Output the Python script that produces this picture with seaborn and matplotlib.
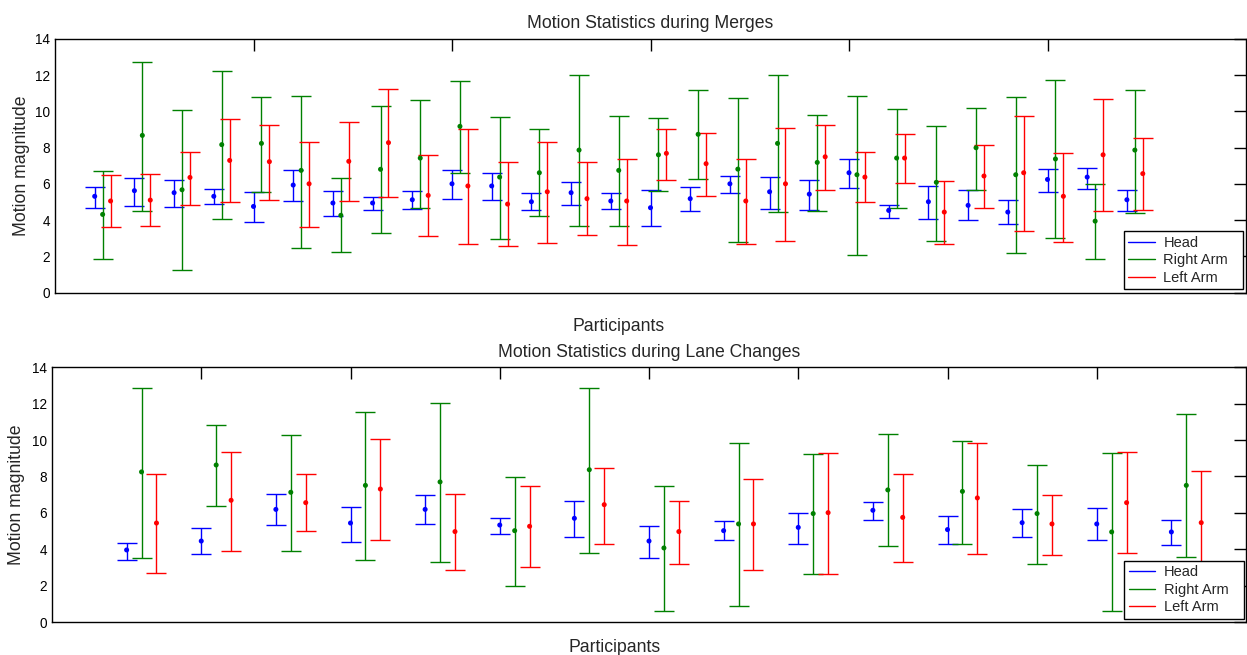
import numpy as np
import pandas as pd
import matplotlib
matplotlib.use('Agg')
import matplotlib.pyplot as plt
from matplotlib.lines import Line2D
import seaborn as sns

series_names = ['Head', 'Right Arm', 'Left Arm']
series_colors = ['#0000FF', '#008000', '#FF0000']

# ---- Merges (27 participants) ----
merge_head_mean = [5.32, 5.63, 5.52, 5.32, 4.76, 5.94, 4.95, 4.95, 5.13, 6.01, 5.89, 5.02, 5.52, 5.06,
                   4.69, 5.19, 6.01, 5.57, 5.44, 6.62, 4.54, 5.02, 4.82, 4.45, 6.25, 6.38, 5.13]
merge_head_lo = [4.67, 4.80, 4.73, 4.91, 3.92, 5.04, 4.23, 4.54, 4.62, 5.17, 5.09, 4.54, 4.86, 4.60,
                 3.68, 4.49, 5.48, 4.60, 4.54, 5.79, 4.10, 4.05, 3.99, 3.79, 5.54, 5.72, 4.49]
merge_head_hi = [5.85, 6.35, 6.22, 5.72, 5.54, 6.77, 5.59, 5.28, 5.59, 6.79, 6.60, 5.48, 6.11, 5.48,
                 5.66, 5.85, 6.46, 6.40, 6.22, 7.39, 4.86, 5.90, 5.66, 5.09, 6.84, 6.90, 5.66]
merge_right_mean = [4.32, 8.68, 5.68, 8.17, 8.24, 6.75, 4.27, 6.81, 7.43, 9.18, 6.38, 6.62, 7.87, 6.75,
                    7.61, 8.74, 6.82, 8.24, 7.19, 6.51, 7.43, 6.09, 8.00, 6.51, 7.38, 3.95, 7.87]
merge_right_lo = [1.88, 4.49, 1.25, 4.05, 5.54, 2.48, 2.24, 3.31, 4.69, 6.60, 2.94, 4.23, 3.68, 3.68,
                  5.61, 6.29, 2.81, 4.43, 4.49, 2.06, 4.67, 2.87, 5.66, 2.19, 3.00, 1.88, 4.41]
merge_right_hi = [6.71, 12.73, 10.08, 12.25, 10.81, 10.87, 6.35, 10.32, 10.65, 11.70, 9.69, 9.01, 11.99, 9.75,
                  9.64, 11.18, 10.74, 11.99, 9.82, 10.87, 10.13, 9.20, 10.19, 10.81, 11.73, 5.98, 11.18]
merge_left_mean = [5.06, 5.11, 6.36, 7.30, 7.23, 6.01, 7.25, 8.28, 5.37, 5.89, 4.89, 5.57, 5.19, 5.06,
                   7.69, 7.12, 5.06, 6.01, 7.50, 6.38, 7.43, 4.45, 6.44, 6.62, 5.32, 7.61, 6.57]
merge_left_lo = [3.60, 3.66, 4.86, 4.98, 5.09, 3.60, 5.04, 5.30, 3.11, 2.69, 2.56, 2.76, 3.18, 2.61,
                 6.22, 5.35, 2.69, 2.87, 5.66, 4.98, 6.05, 2.69, 4.67, 3.42, 2.81, 4.49, 4.54]
merge_left_hi = [6.47, 6.55, 7.76, 9.58, 9.25, 8.33, 9.44, 11.26, 7.60, 9.01, 7.21, 8.33, 7.21, 7.39,
                 9.01, 8.83, 7.39, 9.09, 9.27, 7.76, 8.77, 6.14, 8.15, 9.75, 7.71, 10.69, 8.53]

# ---- Lane changes (15 participants) ----
lane_head_mean = [3.96, 4.45, 6.19, 5.44, 6.19, 5.33, 5.70, 4.45, 5.02, 5.20, 6.14, 5.08, 5.46, 5.39, 4.95]
lane_head_lo = [3.43, 3.74, 5.35, 4.42, 5.37, 4.86, 4.67, 3.54, 4.49, 4.31, 5.61, 4.31, 4.67, 4.49, 4.23]
lane_head_hi = [4.36, 5.17, 7.04, 6.34, 6.98, 5.74, 6.67, 5.30, 5.55, 5.99, 6.60, 5.85, 6.23, 6.29, 5.61]
lane_right_mean = [8.25, 8.63, 7.13, 7.51, 7.70, 5.02, 8.37, 4.07, 5.39, 5.96, 7.26, 7.18, 5.96, 4.95, 7.51]
lane_right_lo = [3.54, 6.36, 3.92, 3.43, 3.30, 1.98, 3.79, 0.62, 0.88, 2.62, 4.18, 4.31, 3.17, 0.62, 3.57]
lane_right_hi = [12.88, 10.83, 10.28, 11.53, 12.02, 7.97, 12.88, 7.49, 9.84, 9.22, 10.34, 9.97, 8.65, 9.29, 11.45]
lane_left_mean = [5.44, 6.69, 6.56, 7.31, 4.97, 5.26, 6.45, 4.97, 5.39, 6.01, 5.75, 6.82, 5.39, 6.56, 5.46]
lane_left_lo = [2.68, 3.92, 4.98, 4.49, 2.88, 3.04, 4.31, 3.17, 2.88, 2.62, 3.32, 3.74, 3.67, 3.79, 2.64]
lane_left_hi = [8.14, 9.35, 8.14, 10.08, 7.04, 7.49, 8.48, 6.67, 7.84, 9.29, 8.15, 9.84, 6.98, 9.35, 8.28]

titles = ['Motion Statistics during Merges', 'Motion Statistics during Lane Changes']
ylabel_text = 'Motion magnitude'
xlabel_text = 'Participants'
y_ticks = [0, 2, 4, 6, 8, 10, 12, 14]

sns.set_style('white')
plt.rcParams['font.family'] = ['Liberation Sans', 'DejaVu Sans']

W, H = 1247, 655
fig = plt.figure(figsize=(W / 100, H / 100), dpi=100)
ax1 = fig.add_axes([55 / W, (H - 292.7) / H, 1191 / W, 253.7 / H])
ax2 = fig.add_axes([52 / W, (H - 622) / H, 1194 / W, 254.7 / H])

LW = 1.0


def draw(ax, means, los, his, xmax, xticks, title, xlab_xy, ylab_x, leg_box):
    n = len(means[0])
    participants = np.arange(1, n + 1)
    offsets = [0.0, 0.2, 0.4]
    frames = []
    handles = []
    for k, (name, m, lo, hi) in enumerate(zip(series_names, means, los, his)):
        m = np.asarray(m, float)
        lo = np.asarray(lo, float)
        hi = np.asarray(hi, float)
        x = participants + offsets[k]
        ax.errorbar(x, m, yerr=[m - lo, hi - m], fmt='none', ecolor=series_colors[k],
                    elinewidth=LW, capsize=7.4, capthick=LW, zorder=2 + k * 0.1)
        handles.append(Line2D([], [], color=series_colors[k], lw=LW))
        frames.append(pd.DataFrame({'x': x, 'y': m, 'series': name}))
    data = pd.concat(frames, ignore_index=True)
    sns.scatterplot(data=data, x='x', y='y', hue='series', hue_order=series_names,
                    palette=series_colors, s=13, edgecolor='none', linewidth=0,
                    legend=False, ax=ax, zorder=4)
    ax.set_xlim(0, xmax)
    ax.set_ylim(0, 14)
    ax.set_xticks(xticks)
    ax.set_yticks(y_ticks)
    ax.tick_params(axis='both', direction='in', length=8.4, width=LW, color='black',
                   top=True, right=True, labelbottom=False, labelsize=9.8, pad=3.6,
                   labelcolor='black')
    for s in ax.spines.values():
        s.set_visible(True)
        s.set_color('black')
        s.set_linewidth(LW)
    ax.set_title(title, fontsize=12.7, y=1.042, pad=0)
    ax.set_xlabel(xlabel_text, fontsize=12.7)
    ax.xaxis.label.set_va('baseline')
    ax.xaxis.set_label_coords(*xlab_xy)
    ax.set_ylabel(ylabel_text, fontsize=12.7)
    ax.yaxis.set_label_coords(ylab_x, 0.5)
    leg = ax.legend(handles, series_names, loc='lower left', bbox_to_anchor=leg_box,
                    mode='expand', borderaxespad=0, frameon=True, fancybox=False,
                    edgecolor='black', framealpha=1, fontsize=10.5, handlelength=1.8,
                    handletextpad=0.6, borderpad=0.3, labelspacing=0.24)
    leg.get_frame().set_linewidth(LW)
    leg.set_zorder(10)


draw(ax1, [merge_head_mean, merge_right_mean, merge_left_mean],
     [merge_head_lo, merge_right_lo, merge_left_lo],
     [merge_head_hi, merge_right_hi, merge_left_hi],
     30, [5, 10, 15, 20, 25], titles[0], (0.4729, -0.1498), -0.0214,
     (0.8976, 0.0146, 0.1003, 0.2))
draw(ax2, [lane_head_mean, lane_right_mean, lane_left_mean],
     [lane_head_lo, lane_right_lo, lane_left_lo],
     [lane_head_hi, lane_right_hi, lane_left_hi],
     16, [2, 4, 6, 8, 10, 12, 14], titles[1], (0.4715, -0.1166), -0.0222,
     (0.8982, 0.013, 0.1004, 0.2))

fig.savefig('out.png', dpi=100)
